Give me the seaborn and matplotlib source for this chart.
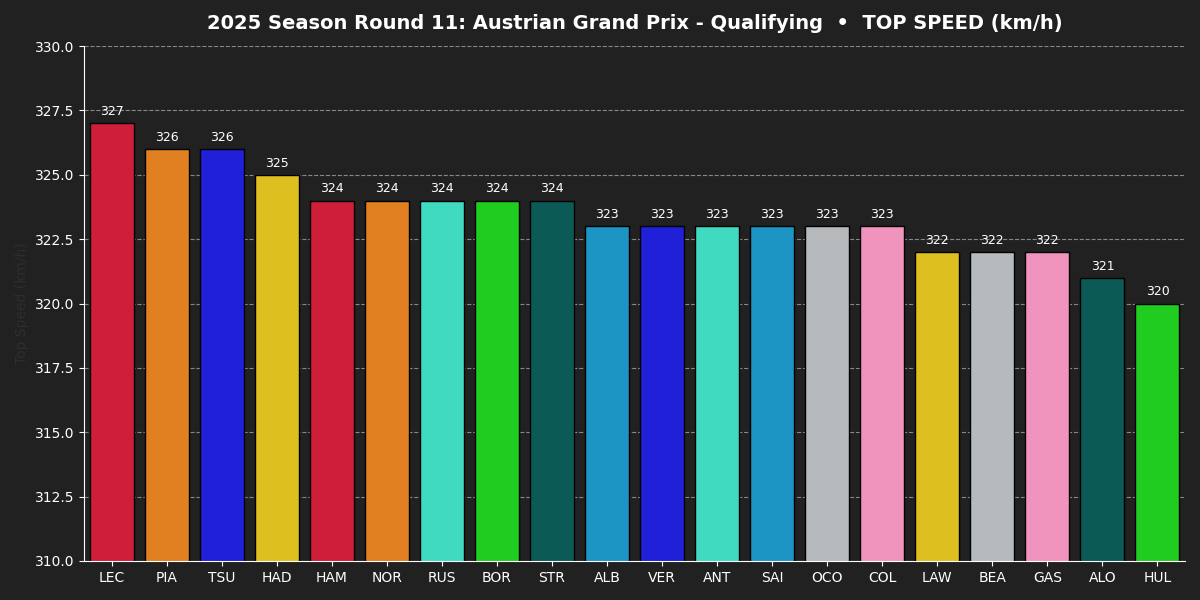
import matplotlib
matplotlib.use("Agg")
import matplotlib.pyplot as plt
import seaborn as sns
import pandas as pd

drivers = ["LEC", "PIA", "TSU", "HAD", "HAM", "NOR", "RUS", "BOR", "STR", "ALB",
           "VER", "ANT", "SAI", "OCO", "COL", "LAW", "BEA", "GAS", "ALO", "HUL"]
speeds = [327, 326, 326, 325, 324, 324, 324, 324, 324, 323,
          323, 323, 323, 323, 323, 322, 322, 322, 321, 320]
colors = ["#CE1E39", "#E08020", "#2020D8", "#DDC020", "#CE1E39", "#E08020", "#40DAC0",
          "#20CC20", "#0C5A55", "#1C94C4", "#2020D8", "#40DAC0", "#1C94C4", "#B6BABD",
          "#F094BE", "#DDC020", "#B6BABD", "#F094BE", "#0C5A55", "#20CC20"]

df = pd.DataFrame({"Driver": drivers, "Speed": speeds})

bg = "#212121"
fig = plt.figure(figsize=(12, 6), dpi=100, facecolor=bg)
ax = fig.add_axes([0.07, 0.065, 0.9175, 0.8583])
ax.set_facecolor(bg)

sns.barplot(data=df, x="Driver", y="Speed", hue="Driver", palette=colors,
            legend=False, ax=ax, width=0.8, edgecolor="black", linewidth=1,
            saturation=1)

ax.set_ylim(310, 330)
ax.set_xlim(-0.5, len(drivers) - 0.5)
ax.set_yticks([310 + 2.5 * i for i in range(9)])
ax.set_yticklabels([f"{310 + 2.5 * i:.1f}" for i in range(9)])
ax.yaxis.grid(True, linestyle="--", color="#888888", linewidth=0.8)
ax.set_axisbelow(True)

for i, v in enumerate(speeds):
    ax.text(i, v + 0.2, f"{v}", ha="center", va="bottom", color="white", fontsize=9)

ax.tick_params(colors="white", labelsize=10)
for s in ["top", "right"]:
    ax.spines[s].set_visible(False)
for s in ["left", "bottom"]:
    ax.spines[s].set_color("white")

ax.set_xlabel("")
ax.set_ylabel("Top Speed (km/h)", color="#2e2e2e", fontsize=10)
ax.set_title("2025 Season Round 11: Austrian Grand Prix - Qualifying  •  TOP SPEED (km/h)",
             color="white", fontsize=14, fontweight="bold", pad=12)

fig.savefig("out.png", dpi=100, facecolor=bg)
